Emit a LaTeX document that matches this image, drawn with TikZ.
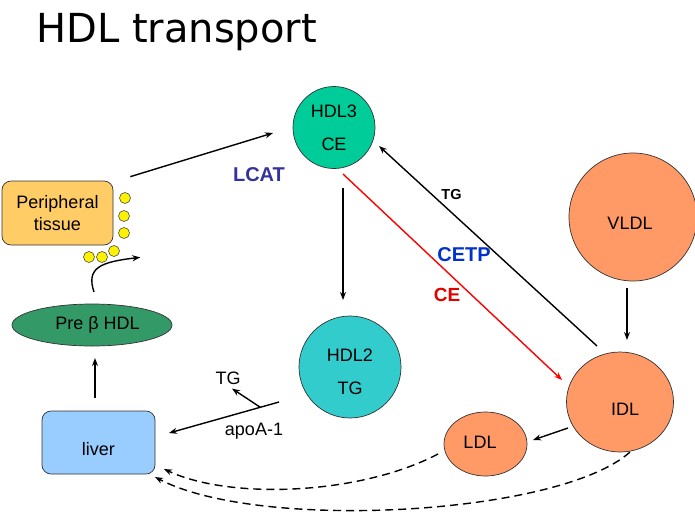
\documentclass[tikz,border=0pt]{standalone}
\usepackage{fontspec}
\setmainfont{Liberation Sans}
\newfontfamily\titlefont{DejaVu Sans}
\usepackage{tikz}
\usetikzlibrary{arrows.meta,shapes.geometric}

\definecolor{hdlthree}{HTML}{00CC99}
\definecolor{hdltwo}{HTML}{33CCCC}
\definecolor{lipo}{HTML}{FF9966}
\definecolor{tissue}{HTML}{FFCC66}
\definecolor{prebeta}{HTML}{339966}
\definecolor{liverblue}{HTML}{99CCFF}
\definecolor{lcatblue}{HTML}{333399}
\definecolor{cetpblue}{HTML}{0033CC}
\definecolor{cered}{HTML}{E00000}

\begin{document}
\begin{tikzpicture}[x=1pt,y=-1pt,
  font=\fontsize{18}{21.6}\selectfont,
  blob/.style={circle,draw=black!80,line width=0.7pt,inner sep=0pt,align=center},
  oval/.style={ellipse,draw=black!80,line width=0.7pt,inner sep=0pt,align=center},
  box/.style={rectangle,rounded corners=9pt,draw=black!80,line width=0.7pt,inner sep=0pt,align=center},
  arr/.style={line width=1.4pt,-{Stealth[length=8pt,width=6pt]}},
  dasharr/.style={arr,dash pattern=on 8pt off 5pt},
  tag/.style={inner sep=1pt,font=\bfseries\fontsize{20}{24}\selectfont}]
\useasboundingbox (0,0) rectangle (695,520);

\node[anchor=base west,inner sep=0pt,font=\titlefont\fontsize{40}{48}\selectfont] (title) at (36,42) {HDL transport};

% lipoproteins
\node[blob,fill=hdlthree,minimum size=82] (hdl3) at (334,127.5) {HDL3\\[11pt]CE};
\node[blob,fill=hdltwo,minimum size=102,label={[align=center,yshift=-4.5pt]center:HDL2\\[11pt]TG}] (hdl2) at (350,367) {};
\node[blob,fill=lipo,minimum size=128,label={[xshift=-3pt,yshift=-6.5pt]center:VLDL}] (vldl) at (633,217) {};
\node[oval,fill=lipo,minimum width=107,minimum height=100,label={[xshift=5pt,yshift=-7pt]center:IDL}] (idl) at (620,402) {};
\node[oval,fill=lipo,minimum width=83,minimum height=64,label={[xshift=-5.5pt,yshift=1.5pt]center:LDL}] (ldl) at (485.5,444) {};
\node[oval,fill=prebeta,minimum width=160,minimum height=42,label={[xshift=5.5pt]center:Pre β HDL}] (preb) at (92,325) {};

% tissues
\node[box,fill=tissue,minimum width=111,minimum height=64] (periph) at (57.5,213) {Peripheral\\tissue};
\node[box,fill=liverblue,minimum width=113,minimum height=63,label={[yshift=-6.5pt]center:liver}] (liver) at (98.5,442.5) {};

% cholesterol
\foreach \cx/\cy in {125/198,124/216,124/233,89/257,102/257,114/251}
  \draw[fill=yellow,draw=black!70,line width=0.6pt] (\cx,\cy) circle (5.5);

% labels
\node[tag,text=lcatblue] (lcat) at (259,175) {LCAT};
\node[tag,text=cetpblue] (cetp) at (464,255) {CETP};
\node[tag,text=cered,font=\bfseries\fontsize{19}{22}\selectfont] (ce) at (447,295) {CE};
\node[tag,font=\bfseries\fontsize{14.5}{17}\selectfont] (tgx) at (451.5,194.5) {TG};
\node[inner sep=1pt] (tgapo) at (228,378) {TG};
\node[inner sep=1pt] (apoa) at (254,431) {apoA-1};

% connectors
\draw[arr] ([shift={(17,-4)}]periph.north east) -- ([shift={(-61,5.5)}]hdl3.center);
\draw[arr] ([shift={(9,60.5)}]hdl3.center) -- ([shift={(-7,-67)}]hdl2.center);
\draw[arr] ([shift={(-71,35)}]hdl2.center) -- ([shift={(70.5,-9.5)}]liver.center)
  coordinate[pos=0.17] (apo);
\draw[arr] (apo) -- ([shift={(4,3)}]tgapo.south);
\draw[arr] ([shift={(-23,-56)}]idl.center) -- ([shift={(45,18.5)}]hdl3.center);
\draw[arr,red] ([shift={(9,46.5)}]hdl3.center) -- ([shift={(-58,-22)}]idl.center);
\draw[arr] ([shift={(-6,71)}]vldl.center) -- ([shift={(7,-62)}]idl.center);
\draw[arr] ([shift={(-52,26)}]idl.center) -- ([shift={(47.5,-4)}]ldl.center);
\draw[arr] ([shift={(-3.5,-44.5)}]liver.center) -- ([shift={(3,33)}]preb.center);
\draw[arr] ([shift={(2,-33)}]preb.center) .. controls (86,268) and (100,262) .. ([shift={(27,12)}]periph.south east);
\draw[dasharr] ([shift={(-47.5,10)}]ldl.center) .. controls (360,495) and (230,500) .. ([shift={(65.5,26.5)}]liver.center);
\draw[dasharr] ([shift={(10,50)}]idl.center) .. controls (560,515) and (260,532) .. ([shift={(56.5,34.5)}]liver.center);
\end{tikzpicture}
\end{document}
